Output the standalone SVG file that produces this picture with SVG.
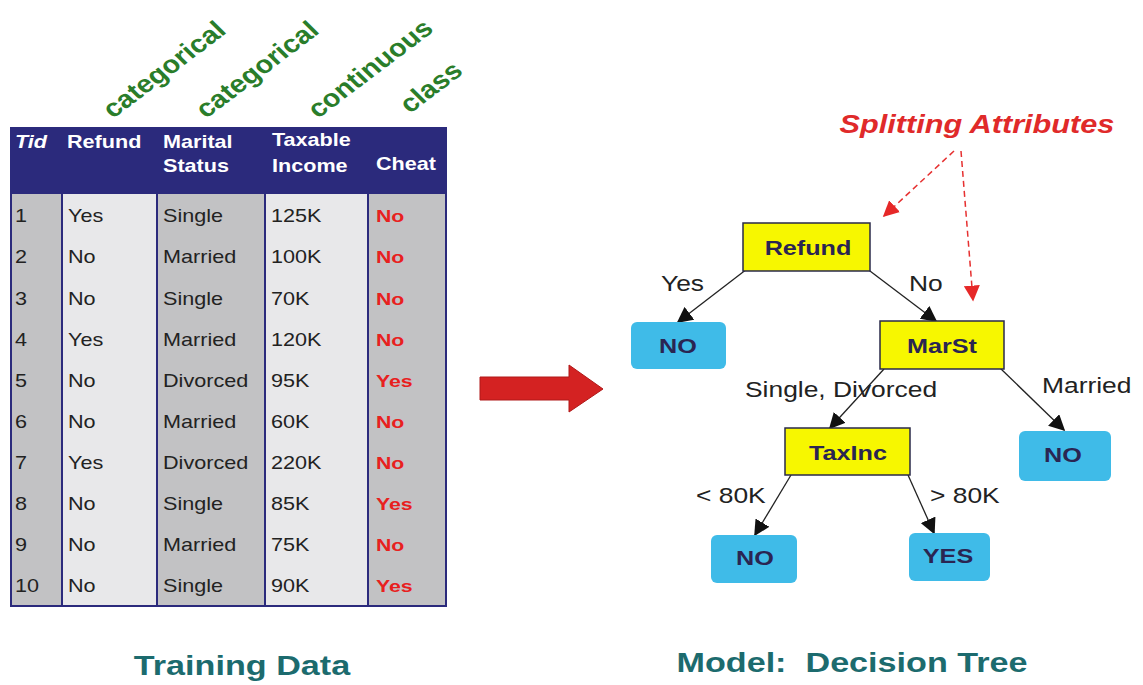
<svg xmlns="http://www.w3.org/2000/svg" width="1143" height="685" viewBox="0 0 1143 685">
  <style>
    .kind { font-family: "Liberation Sans", Arial, sans-serif; font-weight: bold; font-size: 25px; fill: #2a7d2a; }
    .hdr { font-family: "Liberation Sans", Arial, sans-serif; font-weight: bold; font-size: 18px; fill: #ffffff; }
    .cell { font-family: "Liberation Sans", Arial, sans-serif; font-size: 18px; fill: #222222; }
    .cls { font-family: "Liberation Sans", Arial, sans-serif; font-weight: bold; font-size: 17px; fill: #e8201e; }
    .title { font-family: "Liberation Sans", Arial, sans-serif; font-weight: bold; font-size: 28px; fill: #1c6b6e; white-space: pre; }
    .test { fill: #f7f700; stroke: #2a2a4a; stroke-width: 1.5; }
    .leaf { fill: #3fbbe8; }
    .ntext { font-family: "Liberation Sans", Arial, sans-serif; font-weight: bold; font-size: 21px; fill: #2a2552; text-anchor: middle; }
    .elbl { font-family: "Liberation Sans", Arial, sans-serif; font-size: 22px; fill: #222222; }
    .edge { stroke: #222222; stroke-width: 1.3; fill: none; marker-end: url(#ah); }
    .hint { stroke: #e63030; stroke-width: 1.5; stroke-dasharray: 6 4; fill: none; marker-end: url(#rh); }
  </style>
  <defs>
    <marker id="ah" viewBox="0 0 10 10" refX="9" refY="5" markerWidth="16" markerHeight="16" markerUnits="userSpaceOnUse" orient="auto">
      <path d="M0,0 L10,5 L0,10 Z" fill="#111111"/>
    </marker>
    <marker id="rh" viewBox="0 0 10 10" refX="9" refY="5" markerWidth="16" markerHeight="16" markerUnits="userSpaceOnUse" orient="auto">
      <path d="M0,0 L10,5 L0,10 Z" fill="#e62828"/>
    </marker>
  </defs>

  <rect width="1143" height="685" fill="#ffffff"/>

  <!-- attribute type annotations (slanted, widened) -->
  <g id="types">
    <text class="kind" transform="translate(113,119) scale(1.15,1) rotate(-41)">categorical</text>
    <text class="kind" transform="translate(206,119) scale(1.15,1) rotate(-41)">categorical</text>
    <text class="kind" transform="translate(318,119) scale(1.15,1) rotate(-41)">continuous</text>
    <text class="kind" transform="translate(410,114) scale(1.15,1) rotate(-41)">class</text>
  </g>

  <!-- training data table -->
  <g id="table">
    <rect x="10" y="127" width="437" height="480" fill="#2b2a7c"/>
    <rect x="12" y="194" width="50" height="411" fill="#c2c2c4"/>
    <rect x="62" y="194" width="95" height="411" fill="#e8e8ea"/>
    <rect x="157" y="194" width="108" height="411" fill="#c2c2c4"/>
    <rect x="265" y="194" width="103" height="411" fill="#e8e8ea"/>
    <rect x="368" y="194" width="77" height="411" fill="#c2c2c4"/>
    <g stroke="#2b2a7c" stroke-width="2">
      <line x1="62" y1="194" x2="62" y2="606"/>
      <line x1="157" y1="194" x2="157" y2="606"/>
      <line x1="265" y1="194" x2="265" y2="606"/>
      <line x1="368" y1="194" x2="368" y2="606"/>
    </g>

    <!-- header row -->
    <text class="hdr" transform="translate(15,148) scale(1.2,1)" font-style="italic" font-weight="normal">Tid</text>
    <text class="hdr" transform="translate(67,148) scale(1.2,1)">Refund</text>
    <text class="hdr" transform="translate(163,148) scale(1.2,1)">Marital</text>
    <text class="hdr" transform="translate(163,172) scale(1.2,1)">Status</text>
    <text class="hdr" transform="translate(272,146) scale(1.2,1)">Taxable</text>
    <text class="hdr" transform="translate(272,172) scale(1.2,1)">Income</text>
    <text class="hdr" transform="translate(376,170) scale(1.2,1)">Cheat</text>

    <!-- Tid column -->
    <g class="cell" transform="translate(15,0) scale(1.2,1)">
      <text y="222">1</text><text y="263">2</text><text y="305">3</text><text y="346">4</text><text y="387">5</text>
      <text y="428">6</text><text y="469">7</text><text y="510">8</text><text y="551">9</text><text y="592">10</text>
    </g>
    <!-- Refund column -->
    <g class="cell" transform="translate(68,0) scale(1.2,1)">
      <text y="222">Yes</text><text y="263">No</text><text y="305">No</text><text y="346">Yes</text><text y="387">No</text>
      <text y="428">No</text><text y="469">Yes</text><text y="510">No</text><text y="551">No</text><text y="592">No</text>
    </g>
    <!-- Marital Status column -->
    <g class="cell" transform="translate(163,0) scale(1.2,1)">
      <text y="222">Single</text><text y="263">Married</text><text y="305">Single</text><text y="346">Married</text><text y="387">Divorced</text>
      <text y="428">Married</text><text y="469">Divorced</text><text y="510">Single</text><text y="551">Married</text><text y="592">Single</text>
    </g>
    <!-- Taxable Income column -->
    <g class="cell" transform="translate(271,0) scale(1.2,1)">
      <text y="222">125K</text><text y="263">100K</text><text y="305">70K</text><text y="346">120K</text><text y="387">95K</text>
      <text y="428">60K</text><text y="469">220K</text><text y="510">85K</text><text y="551">75K</text><text y="592">90K</text>
    </g>
    <!-- Cheat (class) column -->
    <g class="cls" transform="translate(376,0) scale(1.25,1)">
      <text y="222">No</text><text y="263">No</text><text y="305">No</text><text y="346">No</text><text y="387">Yes</text>
      <text y="428">No</text><text y="469">No</text><text y="510">Yes</text><text y="551">No</text><text y="592">Yes</text>
    </g>
  </g>

  <text class="title" transform="translate(242,675) scale(1.22,1)" text-anchor="middle">Training Data</text>

  <!-- big red arrow -->
  <g id="flow-arrow">
    <path d="M480,377 L569,377 L569,365 L603,389 L569,412 L569,400 L480,400 Z" fill="#d42222" stroke="#b01818" stroke-width="1"/>
  </g>

  <!-- splitting attributes callout -->
  <g id="callout">
    <text transform="translate(977,133) scale(1.18,1)" text-anchor="middle" font-family="'Liberation Sans', Arial, sans-serif" font-weight="bold" font-style="italic" font-size="26" fill="#e02a2a">Splitting Attributes</text>
    <path class="hint" d="M954,151 L884,216"/>
    <path class="hint" d="M961,151 L973,300"/>
  </g>

  <!-- connectors -->
  <g id="edges">
    <path class="edge" d="M747,269 L678,322"/>
    <path class="edge" d="M866,268 L936,321"/>
    <path class="edge" d="M884,369 L830,428"/>
    <path class="edge" d="M1000,368 L1064,430"/>
    <path class="edge" d="M791,475 L755,535"/>
    <path class="edge" d="M908,475 L934,533"/>
    <text class="elbl" transform="translate(661,291) scale(1.2,1)">Yes</text>
    <text class="elbl" transform="translate(909,291) scale(1.2,1)">No</text>
    <text class="elbl" transform="translate(745,397) scale(1.2,1)">Single, Divorced</text>
    <text class="elbl" transform="translate(1042,393) scale(1.2,1)">Married</text>
    <text class="elbl" transform="translate(696,503) scale(1.2,1)">&lt; 80K</text>
    <text class="elbl" transform="translate(930,503) scale(1.2,1)">&gt; 80K</text>
  </g>

  <!-- tree nodes -->
  <g id="node-refund">
    <rect class="test" x="743" y="223" width="127" height="48"/>
    <text class="ntext" transform="translate(808,255) scale(1.2,1)">Refund</text>
  </g>
  <g id="leaf-no-1">
    <rect class="leaf" x="631" y="322" width="95" height="47" rx="6"/>
    <text class="ntext" transform="translate(678,353) scale(1.2,1)">NO</text>
  </g>
  <g id="node-marst">
    <rect class="test" x="880" y="321" width="124" height="48"/>
    <text class="ntext" transform="translate(942,353) scale(1.2,1)">MarSt</text>
  </g>
  <g id="node-taxinc">
    <rect class="test" x="785" y="428" width="125" height="47"/>
    <text class="ntext" transform="translate(848,460) scale(1.2,1)">TaxInc</text>
  </g>
  <g id="leaf-no-2">
    <rect class="leaf" x="1019" y="431" width="92" height="50" rx="6"/>
    <text class="ntext" transform="translate(1063,462) scale(1.2,1)">NO</text>
  </g>
  <g id="leaf-no-3">
    <rect class="leaf" x="711" y="535" width="86" height="48" rx="6"/>
    <text class="ntext" transform="translate(755,565) scale(1.2,1)">NO</text>
  </g>
  <g id="leaf-yes">
    <rect class="leaf" x="909" y="533" width="81" height="48" rx="6"/>
    <text class="ntext" transform="translate(948,563) scale(1.2,1)">YES</text>
  </g>

  <text class="title" transform="translate(852,672) scale(1.22,1)" text-anchor="middle">Model:  Decision Tree</text>
</svg>
